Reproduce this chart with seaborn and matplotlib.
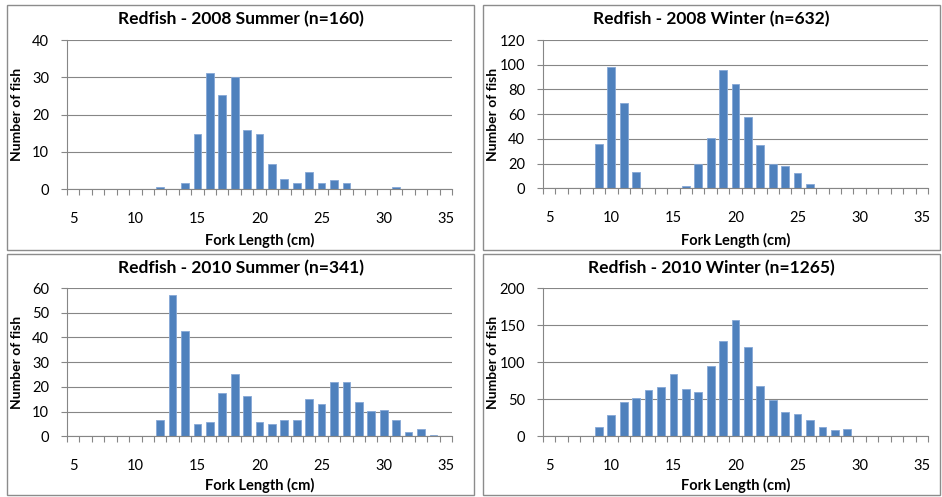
import matplotlib
matplotlib.use("Agg")
import matplotlib.pyplot as plt
import seaborn as sns
import pandas as pd
from matplotlib.patches import Rectangle

# ---------------- data ----------------
lengths = list(range(5, 36))
tick_lengths = [5, 10, 15, 20, 25, 30, 35]

titles = [
    "Redfish - 2008 Summer (n=160)",
    "Redfish - 2008 Winter (n=632)",
    "Redfish - 2010 Summer (n=341)",
    "Redfish - 2010 Winter (n=1265)",
]

s08_len = [12, 14, 15, 16, 17, 18, 19, 20, 21, 22, 23, 24, 25, 26, 27, 31]
s08_cnt = [0.7, 1.6, 14.8, 31.2, 25.2, 30.0, 15.9, 14.8, 6.8, 2.7, 1.6, 4.7, 1.6, 2.6, 1.6, 0.7]

w08_len = [9, 10, 11, 12, 16, 17, 18, 19, 20, 21, 22, 23, 24, 25, 26]
w08_cnt = [36.2, 98.0, 69.0, 13.4, 1.9, 19.6, 40.3, 96.1, 84.6, 57.7, 35.2, 19.6, 18.0, 12.1, 3.8]

s10_len = [12, 13, 14, 15, 16, 17, 18, 19, 20, 21, 22, 23, 24, 25, 26, 27,
           28, 29, 30, 31, 32, 33, 34]
s10_cnt = [6.7, 57.1, 42.7, 4.9, 5.9, 17.4, 25.1, 16.3, 5.9, 4.9, 6.6, 6.6,
           15.1, 13.2, 22.1, 22.1, 13.7, 10.2, 10.8, 6.6, 1.9, 3.0, 0.4]

w10_len = [9, 10, 11, 12, 13, 14, 15, 16, 17, 18, 19, 20, 21, 22, 23, 24,
           25, 26, 27, 28, 29]
w10_cnt = [12.6, 28.3, 46.3, 51.2, 62.5, 67.0, 84.0, 64.3, 60.2, 94.8, 128.5,
           156.9, 120.4, 68.3, 49.4, 32.4, 30.1, 22.0, 12.6, 8.1, 10.3]

y_max = [40, 120, 60, 200]
y_step = [10, 20, 10, 50]

# ---------------- style ----------------
W, H = 942, 497
BAR = "#4F81BD"
GRID = "#868686"
FONT = ["Lato", "DejaVu Sans"]
plt.rcParams["font.family"] = FONT

fig = plt.figure(figsize=(W / 100, H / 100), dpi=100)
fig.patch.set_facecolor("white")

# panel boxes (px): x0, x1, y0(top), y1(bottom)
boxes = [(7, 474, 5, 250), (483, 940, 5, 250), (7, 474, 254, 495), (483, 940, 254, 495)]
# plot areas (px): left, right, top, bottom
areas = [(67, 452, 40, 189.3), (543, 928, 40, 188.3), (67, 452, 288, 436.3), (543, 928, 288, 436.3)]

data = [(s08_len, s08_cnt), (w08_len, w08_cnt), (s10_len, s10_cnt), (w10_len, w10_cnt)]

for i in range(4):
    bx0, bx1, by0, by1 = boxes[i]
    fig.patches.append(Rectangle((bx0 / W, 1 - by1 / H), (bx1 - bx0) / W, (by1 - by0) / H,
                                 transform=fig.transFigure, fill=False,
                                 edgecolor="#8C8C8C", linewidth=1.0))
    l, r, t, b = areas[i]
    ax = fig.add_axes([l / W, 1 - b / H, (r - l) / W, (b - t) / H])
    xs, ys = data[i]
    df = pd.DataFrame({"length": xs, "count": ys})
    sns.barplot(data=df, x="length", y="count", order=lengths, color=BAR,
                width=0.62, edgecolor="#86A8D6", linewidth=0.6, saturation=1,
                ax=ax, errorbar=None)
    ax.set_xlim(-0.5, len(lengths) - 0.5)
    ax.set_ylim(0, y_max[i])
    ax.set_yticks(list(range(0, y_max[i] + 1, y_step[i])))
    ax.set_xticks([lengths.index(v) for v in tick_lengths])
    ax.set_xticklabels([str(v) for v in tick_lengths])
    ax.set_xticks([k - 0.5 for k in range(len(lengths) + 1)], minor=True)
    ax.tick_params(axis="x", which="major", length=0, pad=16, labelsize=10.5, colors="black")
    ax.tick_params(axis="x", which="minor", length=4, width=0.8, color=GRID, direction="out")
    ax.tick_params(axis="y", which="major", length=4, width=0.8, color=GRID, pad=9,
                   labelsize=10.5, labelcolor="black")
    ax.yaxis.grid(True, color=GRID, linewidth=0.8)
    ax.set_axisbelow(True)
    for s in ["top", "right"]:
        ax.spines[s].set_visible(False)
    for s in ["left", "bottom"]:
        ax.spines[s].set_color(GRID)
        ax.spines[s].set_linewidth(0.8)
    ax.set_facecolor("white")
    ax.set_xlabel("")
    ax.set_ylabel("")
    # title, axis labels
    cx = (bx0 + bx1) / 2
    fig.text(cx / W, 1 - (by0 + 14) / H, titles[i], ha="center", va="center",
             fontsize=12.5, fontweight="bold")
    fig.text((l + r) / 2 / W, 1 - (by1 - 10) / H, "Fork Length (cm)", ha="center",
             va="center", fontsize=10.5, fontweight="bold")
    fig.text((bx0 + 10) / W, 1 - (t + b) / 2 / H, "Number of fish", ha="center",
             va="center", rotation=90, fontsize=10, fontweight="bold")

fig.savefig("out.png", dpi=100, facecolor="white")
